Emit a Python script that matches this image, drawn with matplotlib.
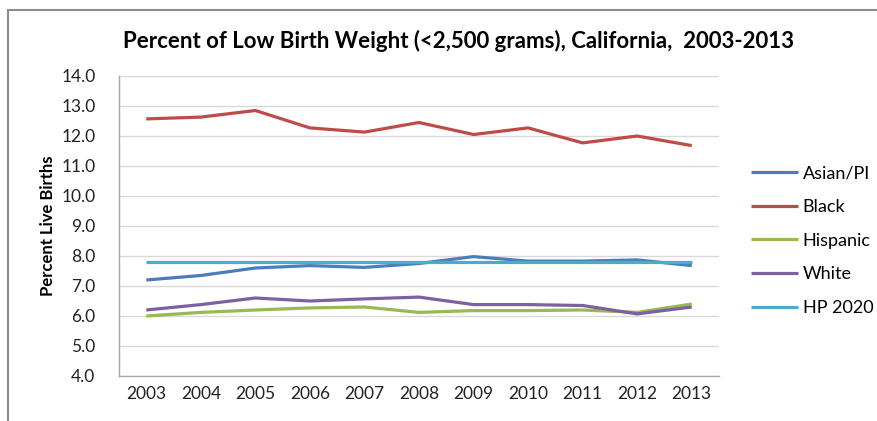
import matplotlib
matplotlib.use('Agg')
import matplotlib.pyplot as plt
from matplotlib.patches import Rectangle

plt.rcParams['font.family'] = ['Lato', 'DejaVu Sans']

years = ['2003', '2004', '2005', '2006', '2007', '2008', '2009', '2010', '2011', '2012', '2013']
asian_pi = [7.2, 7.35, 7.6, 7.68, 7.62, 7.75, 7.98, 7.83, 7.83, 7.87, 7.68]
black = [12.57, 12.63, 12.85, 12.27, 12.13, 12.45, 12.05, 12.27, 11.77, 12.0, 11.68]
hispanic = [6.0, 6.12, 6.2, 6.27, 6.3, 6.12, 6.18, 6.18, 6.2, 6.12, 6.4]
white = [6.2, 6.38, 6.6, 6.5, 6.57, 6.63, 6.38, 6.38, 6.35, 6.07, 6.3]
hp2020 = [7.8] * 11

series = [('Asian/PI', asian_pi, '#4a7ebb'),
          ('Black', black, '#be4b48'),
          ('Hispanic', hispanic, '#98b954'),
          ('White', white, '#7d60a0'),
          ('HP 2020', hp2020, '#4bacc6')]

fig = plt.figure(figsize=(8.78, 4.21), dpi=100)
ax = fig.add_axes([119/878, 1-376/421, 600/878, 300/421])

x = range(len(years))
for name, vals, col in series:
    ax.plot(x, vals, color=col, lw=2.3, label=name, solid_capstyle='butt')

ax.set_xlim(-0.5, len(years) - 0.5)
ax.set_ylim(4, 14)
ax.set_yticks([4 + i for i in range(11)])
ax.set_yticklabels([f'{4 + i:.1f}' for i in range(11)])
ax.set_xticks(list(x))
ax.set_xticklabels(years)
ax.tick_params(length=0, labelsize=12.5, colors='#222222', pad=7)
ax.tick_params(axis='y', pad=17)
ax.yaxis.grid(True, color='#d9d9d9', lw=1)
ax.set_axisbelow(True)
for s in ['top', 'right']:
    ax.spines[s].set_visible(False)
for s in ['left', 'bottom']:
    ax.spines[s].set_color('#a6a6a6')
    ax.spines[s].set_linewidth(1)

ax.set_ylabel('Percent Live Births', fontsize=12, fontweight='bold', labelpad=4)
fig.text(0.522, 1 - 41/421, 'Percent of Low Birth Weight (<2,500 grams), California,  2003-2013',
         ha='center', va='center', fontsize=16, fontweight='bold')

leg = fig.legend(loc='upper left', bbox_to_anchor=(735/878, 1 - 149/421), frameon=False,
                 fontsize=13, handlelength=2.6, handletextpad=0.25, labelspacing=0.98)

# outer chart border (top and left visible)
fig.patches.append(Rectangle((8/878, -0.1), 1.1, 1 - 10/421 + 0.1, transform=fig.transFigure,
                             fill=False, edgecolor='#8c8c8c', lw=1.5))

fig.savefig('out.png', dpi=100)
